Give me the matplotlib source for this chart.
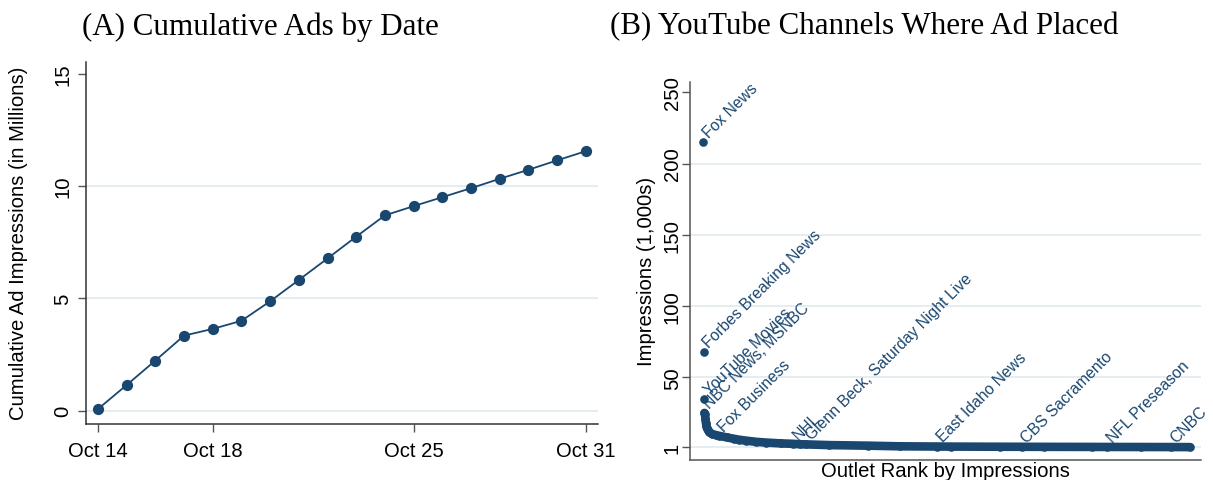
import matplotlib
matplotlib.use("Agg")
import matplotlib.pyplot as plt

plt.rcParams['font.family'] = ['Liberation Sans', 'DejaVu Sans']

# ---------------- data ----------------
# Panel A: cumulative ad impressions (millions) by day of October
days = [14, 15, 16, 17, 18, 19, 20, 21, 22, 23, 24, 25, 26, 27, 28, 29, 30, 31]
cum_impressions = [0.07, 1.14, 2.23, 3.34, 3.64, 4.0, 4.87, 5.82, 6.78, 7.75,
                   8.7, 9.11, 9.51, 9.91, 10.33, 10.73, 11.15, 11.56]
date_ticks = [14, 18, 25, 31]
date_tick_labels = ["Oct 14", "Oct 18", "Oct 25", "Oct 31"]
a_yticks = [0, 5, 10, 15]

# Panel B: impressions (1,000s) by outlet rank
outlet_ranks = [1, 2, 3, 4, 5, 6, 7, 8, 9, 11, 14, 19, 27, 33, 50, 65, 75, 90,
                110, 130, 160, 186, 200, 212, 260, 340, 405, 481, 510, 610,
                655, 700, 800, 830, 900, 961, 1000]
outlet_impr = [215, 67.5, 34.8, 25.0, 24.0, 21, 18, 16, 14.5, 13, 11.5, 10.3,
               9.5, 9.0, 7.8, 6.8, 6.2, 5.5, 4.7, 4.2, 3.6, 3.3, 3.0, 2.9, 2.4,
               2.0, 1.55, 1.4, 1.35, 1.25, 1.22, 1.18, 1.12, 1.1, 1.06, 1.03, 1.0]
label_names = ["Fox News", "Forbes Breaking News", "YouTube Movies",
               "NBC News, MSNBC", "Fox Business", "NHL",
               "Glenn Beck, Saturday Night Live", "East Idaho News",
               "CBS Sacramento", "NFL Preseason", "CNBC"]
label_ranks = [1, 2, 3, 4, 33, 186, 212, 481, 655, 830, 961]
b_yticks = [1, 50, 100, 150, 200, 250]

# ---------------- style ----------------
NAVY = "#1a476f"
GRID = "#e3ecf0"
FS = 14.6
W, H = 1213, 481

fig = plt.figure(figsize=(W / 100, H / 100), dpi=100)
fig.patch.set_facecolor("white")

def px_axes(x0, y0, x1, y1):
    return fig.add_axes([x0 / W, 1 - y1 / H, (x1 - x0) / W, (y1 - y0) / H])

# ---------------- Panel A ----------------
axA = px_axes(85.7, 62.7, 598, 425)
for t in a_yticks[:-1]:
    axA.axhline(t, color=GRID, lw=1.3, zorder=0)
axA.plot(days, cum_impressions, color=NAVY, lw=1.3, marker="o", ms=8.1,
         markeredgewidth=0, zorder=3)
axA.set_xlim(13.57, 31.43)
axA.set_ylim(-0.6, 15.55)
axA.set_xticks(date_ticks)
axA.set_xticklabels(date_tick_labels)
axA.set_yticks(a_yticks)
axA.set_yticklabels([str(t) for t in a_yticks], rotation=90, va="center")
for s in ["top", "right"]:
    axA.spines[s].set_visible(False)
for s in ["left", "bottom"]:
    axA.spines[s].set_color("#333333")
    axA.spines[s].set_linewidth(1.1)
axA.tick_params(axis="both", labelsize=FS, length=5.5, width=1.0,
                color="#555555")
axA.tick_params(axis="x", pad=6.5)
axA.tick_params(axis="y", pad=4)
fig.text(19 / W, 1 - 243.8 / H, "Cumulative Ad Impressions (in Millions)",
         rotation=90, ha="center", va="center", fontsize=FS)

# ---------------- Panel B ----------------
axB = px_axes(690, 82.7, 1201, 460.5)
for t in b_yticks[:-1]:
    axB.axhline(t, color=GRID, lw=1.3, zorder=0)
# dense tail of outlets drawn as a thick band through the ranked points
axB.plot(outlet_ranks[3:], outlet_impr[3:], color=NAVY, lw=6.2,
         solid_capstyle="round", solid_joinstyle="round", zorder=3)
axB.plot(outlet_ranks, outlet_impr, ls="none", marker="o", ms=6.2,
         color=NAVY, markeredgewidth=0, zorder=3)
for name, r in zip(label_names, label_ranks):
    i = outlet_ranks.index(r)
    axB.annotate(name, (outlet_ranks[i], outlet_impr[i]),
                 xytext=(4.0, 3.0), textcoords="offset points",
                 rotation=45, rotation_mode="anchor", ha="left",
                 va="baseline", fontsize=11.3, color=NAVY, zorder=4)
axB.set_xlim(-25.7, 1022.6)
axB.set_ylim(-7.7, 257.4)
axB.set_xticks([])
axB.set_yticks(b_yticks)
axB.set_yticklabels([str(t) for t in b_yticks], rotation=90, va="center")
for s in ["top", "right"]:
    axB.spines[s].set_visible(False)
for s in ["left", "bottom"]:
    axB.spines[s].set_color("#555555")
    axB.spines[s].set_linewidth(1.1)
axB.tick_params(axis="y", labelsize=FS, length=5.5, width=1.0,
                color="#555555", pad=0.5)
axB.set_xlabel("Outlet Rank by Impressions", fontsize=FS, labelpad=1)
fig.text(646 / W, 1 - 271.6 / H, "Impressions (1,000s)",
         rotation=90, ha="center", va="center", fontsize=FS)

# ---------------- titles ----------------
fig.text(82 / W, 1 - 27 / H, "(A) Cumulative Ads by Date",
         family="Liberation Serif", fontsize=22.3, ha="left", va="center")
fig.text(610 / W, 1 - 27 / H, "(B) YouTube Channels Where Ad Placed",
         family="Liberation Serif", fontsize=22.3, ha="left", va="center")

fig.savefig("out.png", dpi=100, facecolor="white")
